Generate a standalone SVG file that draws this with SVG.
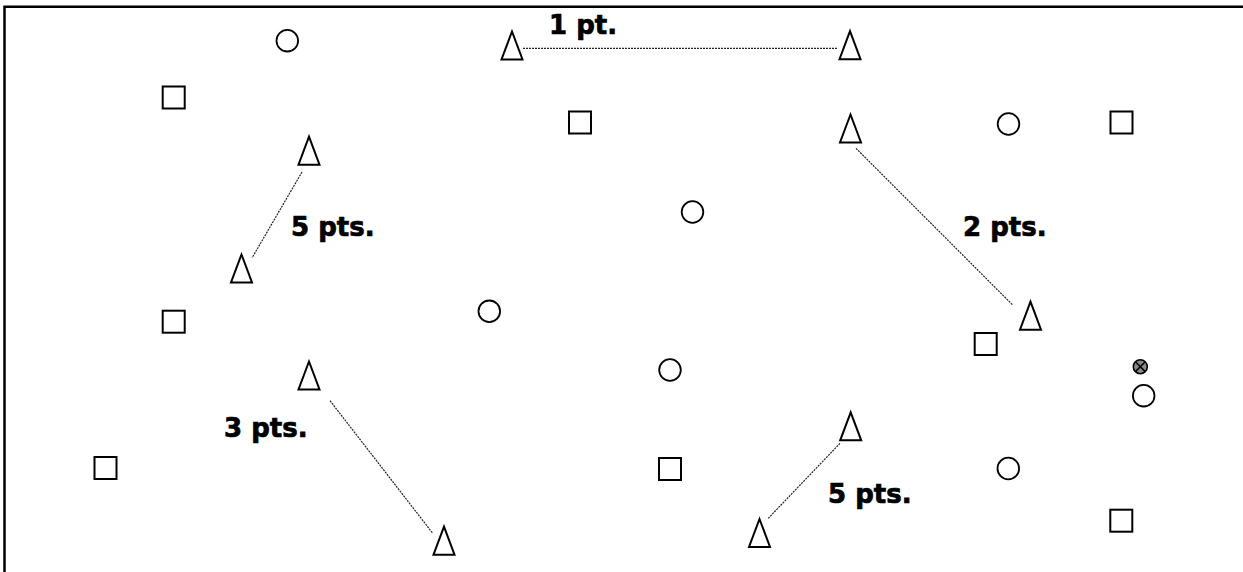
<svg xmlns="http://www.w3.org/2000/svg" width="1243" height="572" viewBox="0 0 1243 572">
<style>
.sq{fill:#fff;stroke:#000;stroke-width:2}
.ci{fill:#fff;stroke:#000;stroke-width:1.8}
.tr{fill:#fff;stroke:#000;stroke-width:2;stroke-linejoin:miter}
.dl{stroke:#222;stroke-width:1.2;stroke-dasharray:2 1;fill:none}
.lbl{font-family:"DejaVu Sans","Verdana",sans-serif;font-weight:bold;font-size:26px;fill:#000;stroke:#000;stroke-width:0.7}
</style>
<defs>
<rect id="square" x="-11" y="-11" width="22" height="22"/>
<polygon id="tri" points="0,-13 10.5,15 -10.5,15"/>
</defs>
<rect width="1243" height="572" fill="#fff"/>
<path d="M4.5 572 V6.8 H1243" fill="none" stroke="#000" stroke-width="2.5"/>

<g id="connectors">
<line class="dl" x1="523" y1="48.3" x2="837" y2="48.3"/>
<line class="dl" x1="302" y1="172" x2="252" y2="258"/>
<line class="dl" x1="856" y1="148.3" x2="1012.7" y2="305"/>
<line class="dl" x1="330" y1="400.7" x2="432.3" y2="532.7"/>
<line class="dl" x1="840" y1="443.3" x2="768.3" y2="518.3"/>
</g>

<g id="squares">
<use id="sq1" href="#square" class="sq" x="173.7" y="97.5"/>
<use id="sq2" href="#square" class="sq" x="173.7" y="321.7"/>
<use id="sq3" href="#square" class="sq" x="105.5" y="468"/>
<use id="sq4" href="#square" class="sq" x="580" y="122.5"/>
<use id="sq5" href="#square" class="sq" x="670" y="469"/>
<use id="sq6" href="#square" class="sq" x="1121.5" y="122.5"/>
<use id="sq7" href="#square" class="sq" x="985.7" y="344"/>
<use id="sq8" href="#square" class="sq" x="1121.3" y="520.7"/>
</g>

<g id="circles">
<circle id="c1" class="ci" cx="287.3" cy="40.7" r="10.8"/>
<circle id="c2" class="ci" cx="1008.5" cy="124" r="10.8"/>
<circle id="c3" class="ci" cx="692.5" cy="212" r="10.8"/>
<circle id="c4" class="ci" cx="489.3" cy="311.3" r="10.8"/>
<circle id="c5" class="ci" cx="670" cy="370" r="10.8"/>
<circle id="c6" class="ci" cx="1143.7" cy="395.7" r="10.8"/>
<circle id="c7" class="ci" cx="1008.3" cy="468.5" r="10.8"/>
</g>

<g id="marker-x">
<circle cx="1140.3" cy="366.7" r="7" fill="#8a8a8a" stroke="#000" stroke-width="1.6"/>
<path d="M1135.4 361.8 L1145.2 371.6 M1145.2 361.8 L1135.4 371.6" stroke="#000" stroke-width="1.5"/>
</g>

<g id="triangles">
<use id="t1" href="#tri" class="tr" x="512" y="44.5"/>
<use id="t2" href="#tri" class="tr" x="850" y="44.2"/>
<use id="t3" href="#tri" class="tr" x="309" y="149.7"/>
<use id="t4" href="#tri" class="tr" x="241.5" y="267.5"/>
<use id="t5" href="#tri" class="tr" x="850.5" y="127.5"/>
<use id="t6" href="#tri" class="tr" x="1030.5" y="314.7"/>
<use id="t7" href="#tri" class="tr" x="309" y="374.5"/>
<use id="t8" href="#tri" class="tr" x="444" y="539.7"/>
<use id="t9" href="#tri" class="tr" x="850.7" y="425.3"/>
<use id="t10" href="#tri" class="tr" x="759.5" y="532"/>
</g>

<g id="labels">
<text class="lbl" x="549" y="34">1 pt.</text>
<text class="lbl" x="291" y="236">5 pts.</text>
<text class="lbl" x="963" y="236">2 pts.</text>
<text class="lbl" x="224" y="437.3">3 pts.</text>
<text class="lbl" x="828" y="503">5 pts.</text>
</g>
</svg>
